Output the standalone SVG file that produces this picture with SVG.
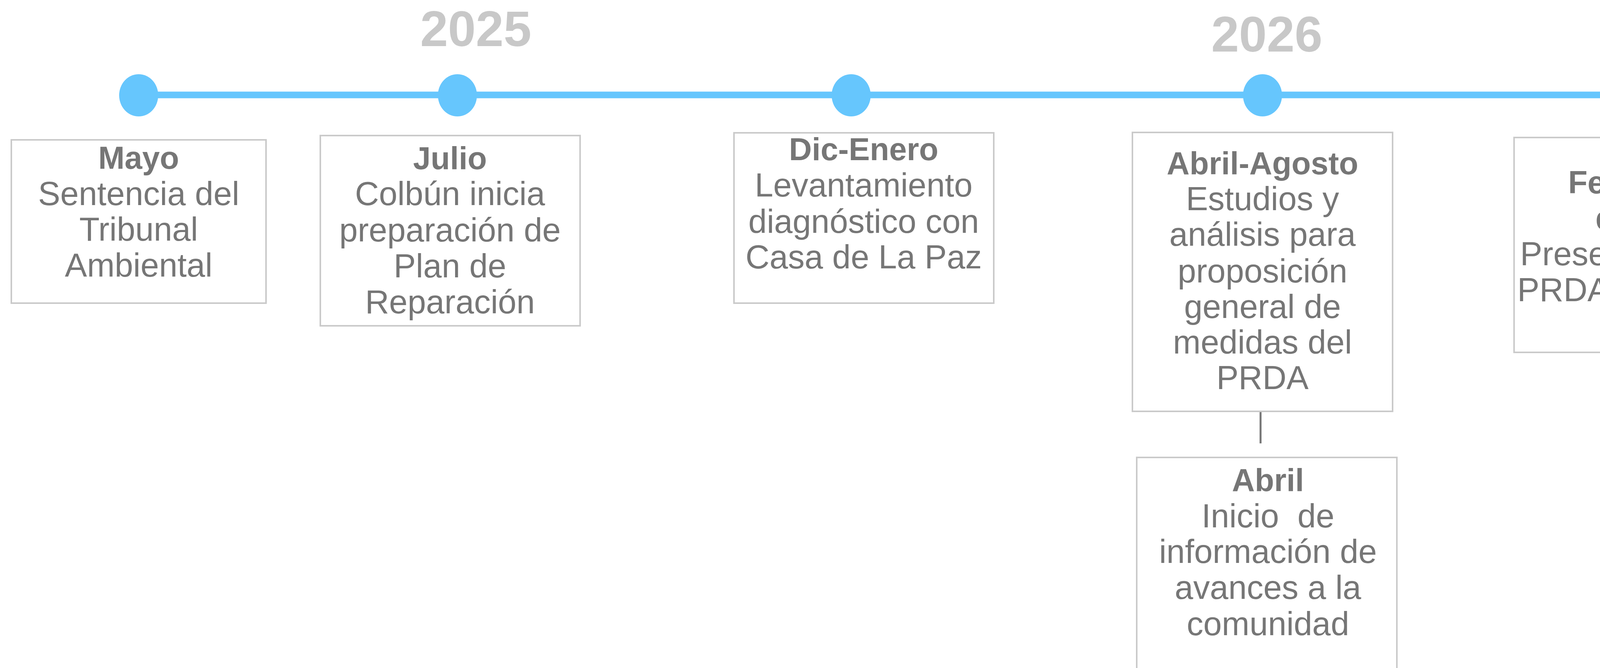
<svg xmlns="http://www.w3.org/2000/svg" width="4553" height="1710" viewBox="0 0 4553 1710">
<style>
.yr{font-family:"Liberation Sans",Arial,sans-serif;font-weight:bold;font-size:128px;fill:#c8c8c8;text-anchor:middle}
.t{font-family:"Liberation Sans",Arial,sans-serif;font-size:85px;fill:#767676;text-anchor:middle}
.b{font-weight:bold;font-size:81px}
.box{fill:#ffffff;stroke:#cacaca;stroke-width:4}
.dot{fill:#66c6fd}
.tl{stroke:#66c6fd;stroke-width:17;fill:none}
.cn{stroke:#767676;stroke-width:5;fill:none}
</style>
<rect x="0" y="0" width="4553" height="1710" fill="#ffffff"/>
<g id="years">
<text class="yr" x="1218" y="118">2025</text>
<text class="yr" x="3243" y="132">2026</text>
</g>
<g id="connectors">
<line class="tl" x1="354" y1="243" x2="4275" y2="243"/>
<line class="cn" x1="3227" y1="1052" x2="3227" y2="1135"/>
</g>
<g id="markers">
<ellipse class="dot" cx="355" cy="244" rx="50" ry="54"/>
<ellipse class="dot" cx="1171" cy="244" rx="50" ry="54"/>
<ellipse class="dot" cx="2179" cy="244" rx="50" ry="54"/>
<ellipse class="dot" cx="3232" cy="244" rx="50" ry="54"/>
<ellipse class="dot" cx="4275" cy="247" rx="50" ry="54"/>
</g>
<g id="node-mayo">
<rect class="box" x="29" y="358" width="652" height="418"/>
<text class="t b" x="355" y="432">Mayo</text>
<text class="t" x="355" y="525">Sentencia del</text>
<text class="t" x="355" y="616">Tribunal</text>
<text class="t" x="355" y="708">Ambiental</text>
</g>
<g id="node-julio">
<rect class="box" x="820" y="347" width="665" height="487"/>
<text class="t b" x="1152" y="433">Julio</text>
<text class="t" x="1152" y="525">Colbún inicia</text>
<text class="t" x="1152" y="618">preparación de</text>
<text class="t" x="1152" y="710">Plan de</text>
<text class="t" x="1152" y="802">Reparación</text>
</g>
<g id="node-dic-enero">
<rect class="box" x="1879" y="340" width="665" height="436"/>
<text class="t b" x="2211" y="410">Dic-Enero</text>
<text class="t" x="2211" y="503">Levantamiento</text>
<text class="t" x="2211" y="596">diagnóstico con</text>
<text class="t" x="2211" y="687">Casa de La Paz</text>
</g>
<g id="node-abril-agosto">
<rect class="box" x="2899" y="339" width="666" height="714"/>
<text class="t b" x="3232" y="446">Abril-Agosto</text>
<text class="t" x="3232" y="538">Estudios y</text>
<text class="t" x="3232" y="629">análisis para</text>
<text class="t" x="3232" y="723">proposición</text>
<text class="t" x="3232" y="814">general de</text>
<text class="t" x="3232" y="905">medidas del</text>
<text class="t" x="3232" y="996">PRDA</text>
</g>
<g id="node-abril">
<rect class="box" x="2910" y="1171" width="666" height="580"/>
<text class="t b" x="3246" y="1257">Abril</text>
<text class="t" x="3246" y="1350" xml:space="preserve">Inicio  de</text>
<text class="t" x="3246" y="1441">información de</text>
<text class="t" x="3246" y="1533">avances a la</text>
<text class="t" x="3246" y="1626">comunidad</text>
</g>
<g id="node-fecha">
<rect class="box" x="3876" y="352" width="668" height="550"/>
<text class="t b" x="4208" y="495">Fecha por</text>
<text class="t b" x="4208" y="586">definir</text>
<text class="t" x="4208" y="679">Presentación del</text>
<text class="t" x="4208" y="771">PRDA al Tribunal</text>
</g>
</svg>
